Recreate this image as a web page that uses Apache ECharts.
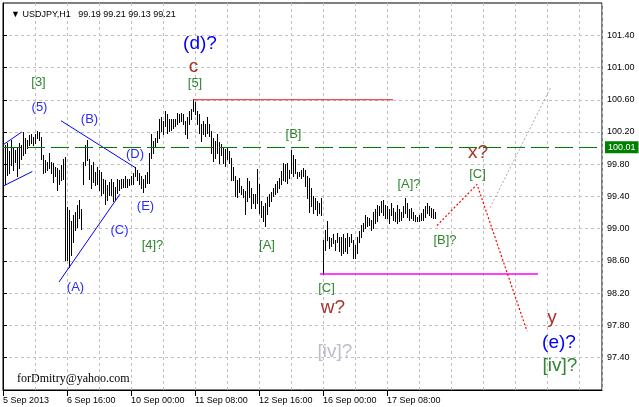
<!DOCTYPE html>
<html><head><meta charset="utf-8">
<script src="https://cdn.jsdelivr.net/npm/echarts@6/dist/echarts.min.js"></script>
<style>html,body{margin:0;padding:0;background:#fff}#c{width:639px;height:407px}</style>
</head><body><div id="c"></div>
<script>
// ---- data (USDJPY H1, bar highs / lows, oldest first) ----
const highs = [100.04,100.06,99.96,100.10,100.00,99.98,100.00,100.06,100.04,100.20,
100.12,100.10,100.16,100.18,100.14,100.18,100.21,100.20,100.14,99.92,
99.85,99.83,99.94,99.83,99.81,99.77,99.75,99.73,99.79,99.87,
99.89,99.27,99.23,99.09,99.17,99.21,99.29,99.36,99.25,99.83,
100.04,100.10,99.87,99.79,99.83,99.71,99.77,99.73,99.71,99.62,
99.60,99.54,99.58,99.62,99.58,99.52,99.62,99.60,99.62,99.62,
99.65,99.62,99.62,99.65,99.69,99.77,99.73,99.69,99.65,99.62,
99.67,99.70,99.94,100.17,100.09,100.13,100.21,100.36,100.38,100.34,
100.46,100.42,100.36,100.36,100.36,100.36,100.44,100.42,100.44,100.42,
100.34,100.38,100.46,100.48,100.61,100.57,100.46,100.42,100.30,100.34,
100.30,100.38,100.30,100.21,100.13,100.09,100.17,100.07,100.05,100.01,
99.99,100.01,99.97,99.88,99.76,99.65,99.61,99.63,99.53,99.49,
99.47,99.63,99.59,99.51,99.43,99.43,99.74,99.55,99.34,99.28,
99.32,99.39,99.43,99.45,99.51,99.55,99.59,99.63,99.72,99.82,
99.80,99.82,99.73,99.98,99.92,99.86,99.71,99.71,99.73,99.75,
99.73,99.65,99.63,99.51,99.40,99.38,99.34,99.32,99.38,98.86,
98.99,99.09,98.90,98.88,98.93,98.86,98.95,98.90,98.90,98.93,
98.88,98.95,98.90,98.93,98.86,98.80,98.90,98.97,99.05,99.07,
99.17,99.15,99.13,99.11,99.21,99.24,99.30,99.28,99.34,99.36,
99.30,99.28,99.24,99.32,99.26,99.21,99.30,99.24,99.21,99.28,
99.38,99.32,99.24,99.26,99.21,99.17,99.15,99.17,99.20,99.24,
99.28,99.32,99.28,99.26,99.24,99.21];
const lows = [99.56,99.67,99.69,99.79,99.73,99.83,99.65,99.75,99.87,99.92,
99.94,100.00,100.04,100.06,100.04,100.06,100.12,100.10,99.87,99.69,
99.71,99.73,99.75,99.69,99.58,99.65,99.48,99.56,99.60,99.62,
98.61,98.61,98.53,98.67,98.84,98.98,99.02,99.13,99.00,99.56,
99.79,99.85,99.62,99.50,99.58,99.54,99.56,99.48,99.42,99.44,
99.31,99.36,99.42,99.42,99.34,99.36,99.44,99.48,99.50,99.52,
99.52,99.52,99.54,99.56,99.56,99.65,99.60,99.56,99.50,99.46,
99.52,99.57,99.57,99.88,99.94,100.01,100.07,100.13,100.21,100.17,
100.28,100.19,100.21,100.23,100.25,100.28,100.30,100.32,100.34,100.30,
100.17,100.13,100.30,100.36,100.46,100.42,100.30,100.19,100.09,100.17,
100.15,100.19,100.15,99.94,99.84,99.88,99.94,99.82,99.92,99.82,
99.78,99.86,99.82,99.61,99.61,99.41,99.39,99.45,99.43,99.39,
99.18,99.34,99.39,99.26,99.32,99.26,99.32,99.20,99.14,99.10,
99.03,99.18,99.28,99.34,99.41,99.43,99.45,99.51,99.55,99.61,
99.59,99.57,99.63,99.69,99.65,99.69,99.63,99.65,99.63,99.65,
99.53,99.38,99.21,99.28,99.20,99.24,99.17,99.20,99.17,98.44,
98.74,98.86,98.76,98.78,98.82,98.74,98.84,98.72,98.68,98.70,
98.72,98.70,98.78,98.84,98.64,98.64,98.70,98.84,98.90,98.97,
99.01,99.03,99.05,98.99,99.01,99.07,99.09,99.17,99.21,99.17,
99.13,99.13,99.07,99.17,99.11,99.09,99.07,99.09,99.11,99.15,
99.20,99.15,99.11,99.13,99.11,99.09,99.09,99.09,99.11,99.11,
99.15,99.20,99.17,99.15,99.13,99.13];
const lastBar = [99.19, 99.21, 99.13, 99.21]; // O H L C
const symbolName = 'USDJPY,H1';
const timeTickPos = [0, 32, 64, 96, 128, 160, 192];
const timeTickLabels = ['5 Sep 2013','6 Sep 16:00','10 Sep 00:00','11 Sep 08:00','12 Sep 16:00','16 Sep 00:00','17 Sep 08:00'];
const priceTicks = [97.4,97.8,98.2,98.6,99.0,99.4,99.8,100.2,100.6,101.0,101.4];
const priceLevel = 100.01;
// wave labels: [bar position, price, text, kind]
const waveLabels = [
  [17.75,100.81,'[3]','g'], [18.25,100.50,'(5)','b'], [98.5,101.30,'(d)?','B'],
  [95.25,101.01,'c','r'], [96,100.80,'[5]','g'], [43.25,100.35,'(B)','b'],
  [66,99.92,'(D)','b'], [71.25,99.28,'(E)','b'], [58.25,98.98,'(C)','b'],
  [74.75,98.79,'[4]?','g'], [36.25,98.27,'(A)','b'], [145.25,100.17,'[B]','g'],
  [132,98.79,'[A]','g'], [203,99.55,'[A]?','g'], [221,98.86,'[B]?','g'],
  [237.5,99.94,'x?','r'], [237.25,99.68,'[C]','g'], [161.75,98.26,'[C]','g'],
  [165,98.02,'w?','r'], [166,97.48,'[iv]?','s'], [274.5,97.89,'y','r'],
  [278,97.58,'(e)?','B'], [278.5,97.30,'[iv]?','G']
];
// drawn lines: points [bar position, price]
const trendLines = [
  {pts:[[0,100.04],[9.35,100.20]], kind:'blue'},
  {pts:[[0.15,99.53],[14.65,99.71]], kind:'blue'},
  {pts:[[29,100.34],[66,99.76]], kind:'blue'},
  {pts:[[28,98.34],[58.5,99.43]], kind:'blue'},
  {pts:[[95,100.60],[195,100.60]], kind:'red'},
  {pts:[[158.5,98.44],[267.5,98.44]], kind:'magenta'},
  {pts:[[217,99.04],[237,99.55],[262,97.73]], kind:'reddot'},
  {pts:[[243.5,99.26],[274,100.76]], kind:'graydot'}
];

// ---- styles ----
const SANS = '"Liberation Sans", Arial, sans-serif';
const labelStyles = {
  g: {size:13, color:'#2f862f'},
  b: {size:13, color:'#2b2bff'},
  B: {size:19, color:'#0000ff'},
  r: {size:19, color:'#a8322a'},
  s: {size:19, color:'#bcbccc'},
  G: {size:19, color:'#2f862f'}
};
const lineStyles = {
  blue: {color:'#0000ff', width:1, type:'solid'},
  red: {color:'#e01818', width:1, type:'solid'},
  magenta: {color:'#ff00ff', width:1.5, type:'solid'},
  reddot: {color:'#ff0000', width:1.2, type:[2,2]},
  graydot: {color:'#a8a8a8', width:1, type:[2,2]}
};

const chart = echarts.init(document.getElementById('c'), null, {renderer:'canvas'});
const barData = highs.map((h, k) => [k + 1, lows[k], h]);

const series = [{
  type:'custom', name:'bars', silent:true, z:2,
  data: barData, encode:{x:0, y:[1,2]},
  renderItem: (params, api) => {
    const v = api.value(0);
    const top = api.coord([v, api.value(2)]);
    const bot = api.coord([v, api.value(1)]);
    const x = Math.round(top[0]);
    const y0 = Math.round(top[1]);
    const y1 = Math.round(bot[1]);
    return {type:'rect', shape:{x:x, y:y0, width:1, height:Math.max(1, y1 - y0 + 1)}, style:{fill:'#000'}};
  },
  markLine: {
    silent:true, symbol:['none','none'], animation:false,
    data:[{yAxis: priceLevel}],
    lineStyle:{color:'#007a00', width:1, type:[18,6]},
    label:{show:true, position:'end', distance:3, formatter: priceLevel.toFixed(2),
      color:'#fff', backgroundColor:'#008000', padding:[2,3,1,3], fontSize:9, fontFamily:SANS}
  }
}];
trendLines.forEach(l => {
  series.push({type:'line', data:l.pts, showSymbol:false, symbol:'none', silent:true, z:3,
    lineStyle: lineStyles[l.kind], clip:false});
});
series.push({
  type:'custom', name:'labels', silent:true, z:4,
  data: waveLabels.map((w, i) => [w[0], w[1], i]), encode:{x:0, y:1},
  renderItem: (params, api) => {
    const w = waveLabels[api.value(2)];
    const st = labelStyles[w[3]];
    const pt = api.coord([api.value(0), api.value(1)]);
    return {type:'text', x:pt[0], y:pt[1], style:{text:w[2], fill:st.color,
      fontSize:st.size, fontFamily:SANS, align:'center', verticalAlign:'middle'}};
  }
});

chart.setOption({
  animation:false,
  backgroundColor:'#fff',
  textStyle:{fontFamily:SANS},
  title:[
    {text:'\u25BC ' + symbolName + '   ' + lastBar.map(v => v.toFixed(2)).join(' '),
     left:6, top:5, textStyle:{fontSize:9, fontWeight:'normal', color:'#000', fontFamily:SANS}},
    {text:'forDmitry@yahoo.com', left:12, top:368,
     textStyle:{fontSize:12, fontWeight:'normal', color:'#000', fontFamily:'"Liberation Serif", "Times New Roman", serif'}}
  ],
  grid:{left:3, right:37, top:3, bottom:17, show:true, borderColor:'#000', borderWidth:1, backgroundColor:'#fff'},
  xAxis:[
    {type:'value', min:0, max:299.5, interval:16, position:'bottom',
     axisLine:{show:true, lineStyle:{color:'#000'}}, axisTick:{show:false}, axisLabel:{show:false},
     splitLine:{show:true, lineStyle:{color:'#c0c0c0', type:[3,3], width:1}}},
    {type:'value', min:0, max:299.5, interval:32, position:'bottom',
     axisLine:{show:false}, splitLine:{show:false},
     axisTick:{show:true, length:6, customValues: timeTickPos, lineStyle:{color:'#000'}},
     axisLabel:{show:true, customValues: timeTickPos, align:'left', margin:6, fontSize:9, color:'#000', fontFamily:SANS,
       hideOverlap:false,
       formatter: v => { const i = timeTickPos.indexOf(Math.round(v)); return i >= 0 ? timeTickLabels[i] : ''; }}}
  ],
  yAxis:{type:'value', position:'right', min:97.0, max:101.8, interval:0.4,
    axisLine:{show:true, lineStyle:{color:'#000'}},
    axisTick:{show:true, inside:false, length:4, customValues: priceTicks, lineStyle:{color:'#000'}},
    axisLabel:{show:true, customValues: priceTicks, margin:5, fontSize:9, color:'#000', fontFamily:SANS,
      formatter: v => v.toFixed(2)},
    splitLine:{show:true, lineStyle:{color:'#c0c0c0', type:[3,3], width:1}}},
  series: series
});
</script>
</body></html>
